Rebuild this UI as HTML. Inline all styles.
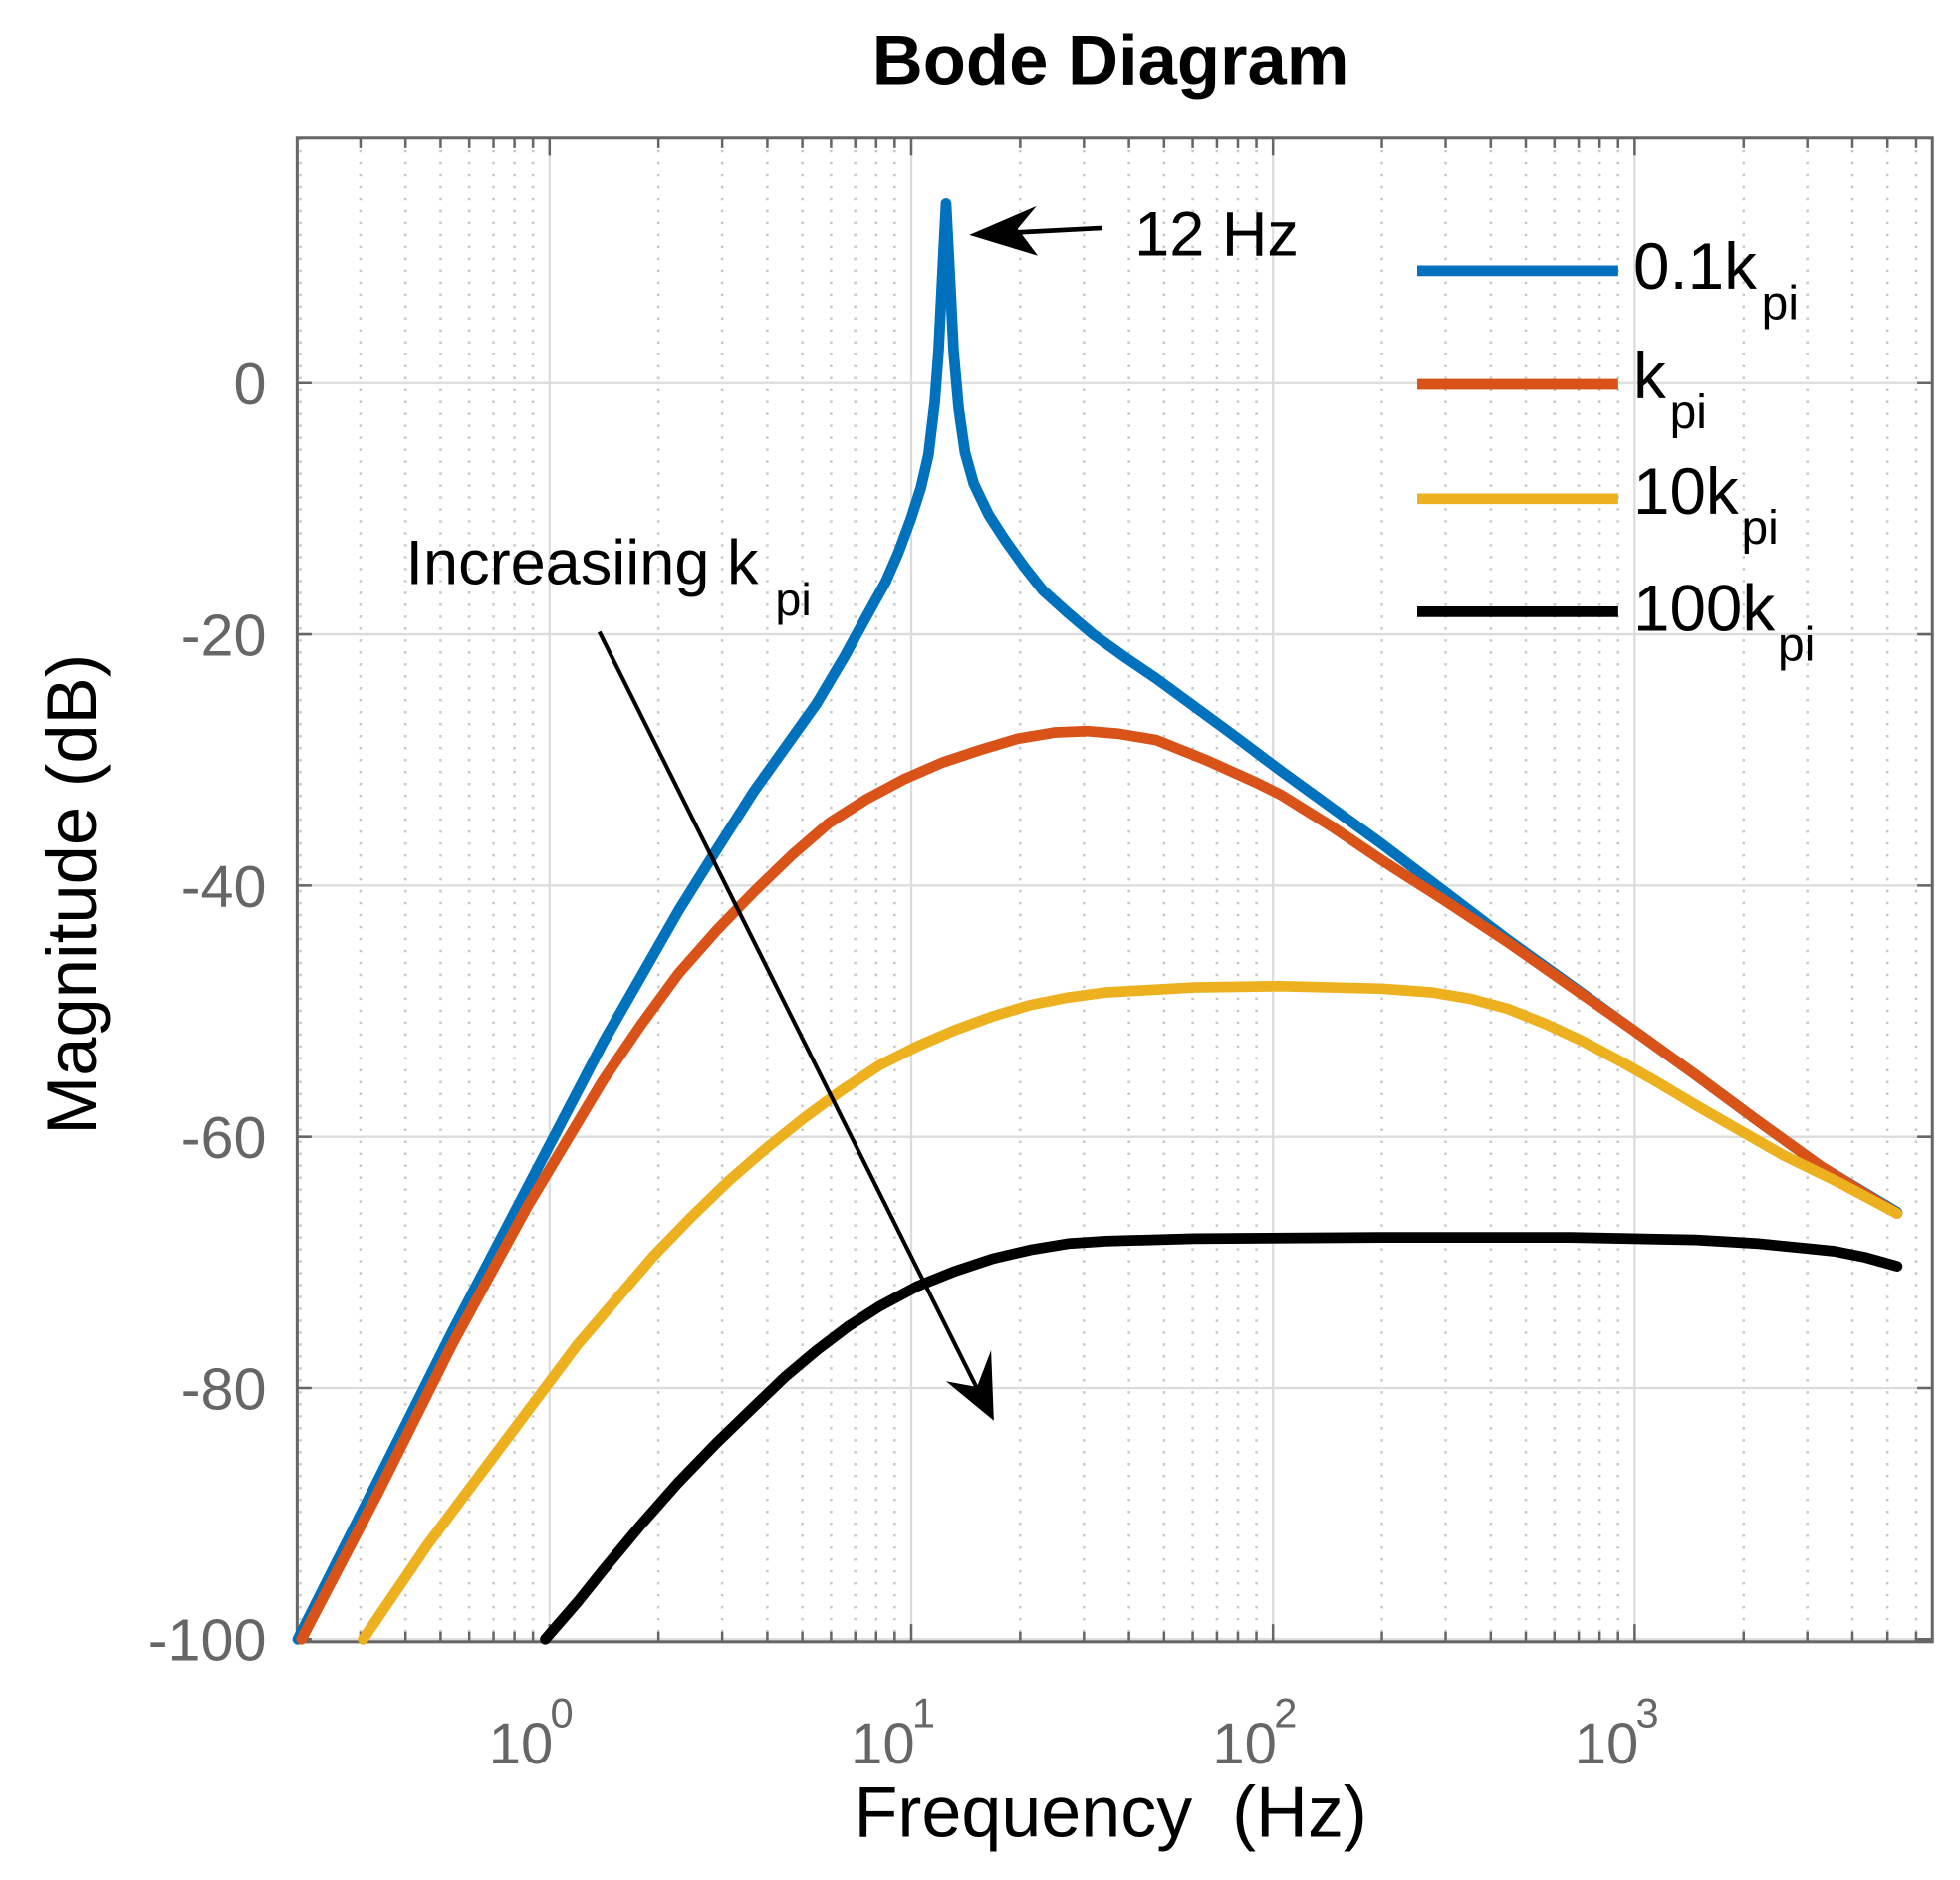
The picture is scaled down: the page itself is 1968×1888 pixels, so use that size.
<!DOCTYPE html>
<html><head><meta charset="utf-8"><style>
html,body{margin:0;padding:0;background:#fff;}
svg{display:block;}
text{font-family:"Liberation Sans",Arial,sans-serif;}
</style></head><body>
<svg width="1968" height="1888" viewBox="0 0 1560 1496.6" xmlns="http://www.w3.org/2000/svg">
<rect x="0" y="0" width="1560" height="1497" fill="#fff"/>
<g stroke="#c8c8c8" stroke-width="2" stroke-dasharray="2,7.5">
<path d="M286.9 110V1307M322.8 110V1307M350.7 110V1307M373.5 110V1307M392.8 110V1307M409.5 110V1307M424.2 110V1307
M524.1 110V1307M574.8 110V1307M610.7 110V1307M638.6 110V1307M661.4 110V1307M680.7 110V1307M697.4 110V1307M712.1 110V1307
M812 110V1307M862.7 110V1307M898.6 110V1307M926.5 110V1307M949.3 110V1307M968.6 110V1307M985.3 110V1307M1000 110V1307
M1099.9 110V1307M1150.6 110V1307M1186.5 110V1307M1214.4 110V1307M1237.2 110V1307M1256.5 110V1307M1273.2 110V1307M1287.9 110V1307
M1387.8 110V1307M1438.5 110V1307M1474.4 110V1307M1502.3 110V1307M1525.1 110V1307M239 110V1307"/>
</g>
<g stroke="#dcdcdc" stroke-width="1.8">
<path d="M437.4 110V1307M725.3 110V1307M1013.2 110V1307M1301.1 110V1307"/>
<path d="M236 305H1538M236 505H1538M236 705H1538M236 905H1538M236 1105H1538M236 1305H1538"/>
</g>
<g stroke="#666" stroke-width="2">
<path d="M236 305h12M236 505h12M236 705h12M236 905h12M236 1105h12M236 1305h12M1538 305h-12M1538 505h-12M1538 705h-12M1538 905h-12M1538 1105h-12M1538 1305h-12"/>
<path d="M437.4 1307v-14M725.3 1307v-14M1013.2 1307v-14M1301.1 1307v-14M437.4 110v14M725.3 110v14M1013.2 110v14M1301.1 110v14"/>
<path d="M286.9 1307v-8M322.8 1307v-8M350.7 1307v-8M373.5 1307v-8M392.8 1307v-8M409.5 1307v-8M424.2 1307v-8M524.1 1307v-8M574.8 1307v-8M610.7 1307v-8M638.6 1307v-8M661.4 1307v-8M680.7 1307v-8M697.4 1307v-8M712.1 1307v-8M812 1307v-8M862.7 1307v-8M898.6 1307v-8M926.5 1307v-8M949.3 1307v-8M968.6 1307v-8M985.3 1307v-8M1000 1307v-8M1099.9 1307v-8M1150.6 1307v-8M1186.5 1307v-8M1214.4 1307v-8M1237.2 1307v-8M1256.5 1307v-8M1273.2 1307v-8M1287.9 1307v-8M1387.8 1307v-8M1438.5 1307v-8M1474.4 1307v-8M1502.3 1307v-8M1525.1 1307v-8
M286.9 110v8M322.8 110v8M350.7 110v8M373.5 110v8M392.8 110v8M409.5 110v8M424.2 110v8M524.1 110v8M574.8 110v8M610.7 110v8M638.6 110v8M661.4 110v8M680.7 110v8M697.4 110v8M712.1 110v8M812 110v8M862.7 110v8M898.6 110v8M926.5 110v8M949.3 110v8M968.6 110v8M985.3 110v8M1000 110v8M1099.9 110v8M1150.6 110v8M1186.5 110v8M1214.4 110v8M1237.2 110v8M1256.5 110v8M1273.2 110v8M1287.9 110v8M1387.8 110v8M1438.5 110v8M1474.4 110v8M1502.3 110v8M1525.1 110v8"/>
</g>
<rect x="236.5" y="110" width="1301.5" height="1197" fill="none" stroke="#666" stroke-width="2.4"/>
<g fill="none" stroke-width="8.5" stroke-linejoin="round" stroke-linecap="round">
<polyline stroke="#0072BD" points="237,1305 300,1180 360,1060 420,945 480,830 540,725 570,677 600,630 625,595 650,560 672,523 690,490 705,463 715,440 725,413 733,388 739,362 744,320 747,280 750,220 753,162 756,220 759,280 763,325 768,360 775,385 787,410 800,430 815,451 830,470 850,488 870,505 895,523 920,540 950,562 980,584 1020,614 1060,643 1100,672 1150,710 1200,748 1250,784 1300,820 1350,856 1400,893 1450,929 1510,965"/>
<polyline stroke="#D95319" points="240,1305 300,1190 360,1070 420,960 450,910 480,860 510,816 540,775 570,741 600,710 630,681 660,655 690,636 720,620 750,607 780,597 810,588 840,583 865,582 890,584 920,589 960,605 1000,623 1020,633 1060,658 1100,685 1150,717 1200,750 1250,785 1300,820 1350,856 1400,893 1450,929 1510,966"/>
<polyline stroke="#EDB120" points="289,1305 340,1230 370,1190 400,1150 430,1110 460,1070 490,1035 520,1000 550,969 580,940 610,914 640,890 670,868 700,848 730,833 760,820 790,809 820,800 850,794 880,790 950,786 1020,785 1100,787 1140,790 1170,795 1200,803 1230,815 1260,829 1290,845 1320,862 1350,880 1385,900 1420,920 1465,942 1510,966"/>
<polyline stroke="#000" points="434,1305 460,1275 480,1250 510,1214 540,1180 570,1149 600,1120 625,1096 650,1075 675,1056 700,1040 730,1024 760,1012 790,1002 820,995 850,990 880,988 950,986 1100,985 1250,985 1300,986 1350,987 1400,990 1430,993 1460,996 1485,1001 1510,1008"/>
</g>
<line x1="877.5" y1="181.5" x2="790" y2="186" stroke="#000" stroke-width="3.7"/>
<polygon points="771.5,187 825,164 810,182 826,203.5" fill="#000"/>
<text x="903" y="203.5" font-size="50" fill="#000">12 Hz</text>
<line x1="477" y1="503" x2="780" y2="1110" stroke="#000" stroke-width="3.2"/>
<polygon points="791,1131 753,1099.7 777.6,1104.2 788.8,1075" fill="#000"/>
<text x="323" y="465" font-size="50" fill="#000">Increasiing k</text>
<text x="617" y="490" font-size="37" fill="#000">pi</text>
<g stroke-width="8.5">
<line x1="1128" y1="215.5" x2="1288" y2="215.5" stroke="#0072BD"/>
<line x1="1128" y1="306" x2="1288" y2="306" stroke="#D95319"/>
<line x1="1128" y1="397" x2="1288" y2="397" stroke="#EDB120"/>
<line x1="1128" y1="487" x2="1288" y2="487" stroke="#000"/>
</g>
<g font-size="52" fill="#000">
<text x="1300" y="230">0.1k</text><text x="1402" y="254" font-size="38">pi</text>
<text x="1300" y="317">k</text><text x="1329" y="341" font-size="38">pi</text>
<text x="1300" y="409">10k</text><text x="1386" y="433" font-size="38">pi</text>
<text x="1300" y="502">100k</text><text x="1415" y="526" font-size="38">pi</text>
</g>
<g font-size="47" fill="#666" text-anchor="end">
<text x="212" y="322">0</text>
<text x="212" y="522">-20</text>
<text x="212" y="722">-40</text>
<text x="212" y="922">-60</text>
<text x="212" y="1122">-80</text>
<text x="212" y="1322">-100</text>
</g>
<g font-size="46" fill="#666">
<text x="389" y="1404">10</text><text x="438" y="1375" font-size="33">0</text>
<text x="677" y="1404">10</text><text x="726" y="1375" font-size="33">1</text>
<text x="965" y="1404">10</text><text x="1014" y="1375" font-size="33">2</text>
<text x="1253" y="1404">10</text><text x="1302" y="1375" font-size="33">3</text>
</g>
<text x="884" y="1462" font-size="57" text-anchor="middle" fill="#000" xml:space="preserve">Frequency  (Hz)</text>
<text transform="translate(76,712) rotate(-90)" font-size="56" text-anchor="middle" fill="#000">Magnitude (dB)</text>
<text x="884" y="67" font-size="56" font-weight="bold" text-anchor="middle" fill="#000">Bode Diagram</text>
</svg>
</body></html>
